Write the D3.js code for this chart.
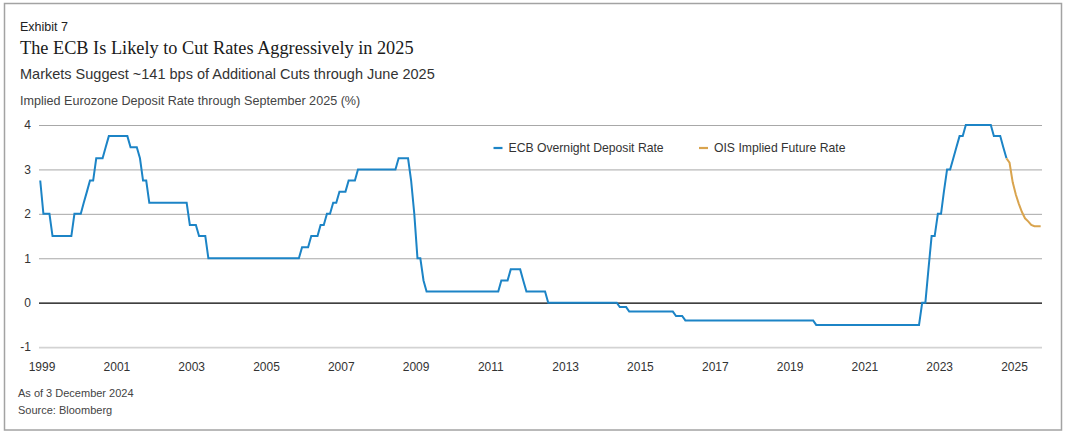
<!DOCTYPE html>
<html><head><meta charset="utf-8">
<script src="https://cdn.jsdelivr.net/npm/d3@7"></script>
<style>body{margin:0;background:#fff}svg{display:block}</style>
</head><body>
<svg id="chart" width="1067" height="433"></svg>
<script>
// ECB overnight deposit rate (first observation of each month), line vertices
const depositDates = ["1999-01","1999-02","1999-04","1999-05","1999-11","1999-12","2000-02","2000-03","2000-04","2000-05","2000-06","2000-07","2000-09","2000-10","2000-11","2001-05","2001-06","2001-08","2001-09","2001-10","2001-11","2001-12","2002-12","2003-01","2003-03","2003-04","2003-06","2003-07","2005-12","2006-01","2006-03","2006-04","2006-06","2006-07","2006-08","2006-09","2006-10","2006-11","2006-12","2007-01","2007-03","2007-04","2007-06","2007-07","2008-07","2008-08","2008-11","2008-12","2009-01","2009-02","2009-03","2009-04","2009-05","2011-04","2011-05","2011-07","2011-08","2011-11","2011-12","2012-01","2012-07","2012-08","2014-06","2014-07","2014-09","2014-10","2015-12","2016-01","2016-03","2016-04","2019-09","2019-10","2022-07","2022-08","2022-09","2022-10","2022-11","2022-12","2023-01","2023-02","2023-03","2023-04","2023-05","2023-06","2023-07","2023-08","2023-09","2023-10","2024-06","2024-07","2024-09","2024-10","2024-11"];
const depositValues = [2.75,2.00,2.00,1.50,1.50,2.00,2.00,2.25,2.50,2.75,2.75,3.25,3.25,3.50,3.75,3.75,3.50,3.50,3.25,2.75,2.75,2.25,2.25,1.75,1.75,1.50,1.50,1.00,1.00,1.25,1.25,1.50,1.50,1.75,1.75,2.00,2.00,2.25,2.25,2.50,2.50,2.75,2.75,3.00,3.00,3.25,3.25,2.75,2.00,1.00,1.00,0.50,0.25,0.25,0.50,0.50,0.75,0.75,0.50,0.25,0.25,0.00,0.00,-0.10,-0.10,-0.20,-0.20,-0.30,-0.30,-0.40,-0.40,-0.50,-0.50,0.00,0.00,0.75,1.50,1.50,2.00,2.00,2.50,3.00,3.00,3.25,3.50,3.75,3.75,4.00,4.00,3.75,3.75,3.50,3.25];
// OIS implied future rate
const oisDates = ["2024-11","2024-12","2025-01","2025-02","2025-03","2025-04","2025-05","2025-06","2025-07","2025-08","2025-09","2025-10"];
const oisValues = [3.25,3.15,2.71,2.43,2.23,2.04,1.90,1.83,1.75,1.72,1.72,1.72];
const yTicks = [-1,0,1,2,3,4];
const xTickYears = [1999,2001,2003,2005,2007,2009,2011,2013,2015,2017,2019,2021,2023,2025];
const seriesNames = ["ECB Overnight Deposit Rate","OIS Implied Future Rate"];
const seriesColors = ["#1c84c6","#d9a44e"];

const parse = d3.timeParse("%Y-%m");
const deposit = depositDates.map((d,i)=>({date:parse(d),value:depositValues[i]}));
const ois = oisDates.map((d,i)=>({date:parse(d),value:oisValues[i]}));

const svg = d3.select("#chart");
const L = 39, R = 1042, T = 125, B = 347.1;
const x = d3.scaleTime().domain([new Date(1998,11,20), new Date(2025,9,14)]).range([L,R]);
const y = d3.scaleLinear().domain([-1,4]).range([B,T]);
const sans = "'Liberation Sans', Arial, sans-serif";

// border
svg.append("rect").attr("x",4.5).attr("y",3.5).attr("width",1057).attr("height",426.5)
  .attr("fill","none").attr("stroke","#a3a3a3").attr("stroke-width",1.5);

// headings
svg.append("text").attr("x",20).attr("y",31).attr("font-family",sans).attr("font-size",12.5).attr("fill","#222").text("Exhibit 7");
svg.append("text").attr("x",20).attr("y",54).attr("font-family","'Liberation Serif', 'Times New Roman', serif").attr("font-size",18.3).attr("fill","#1a1a1a").text("The ECB Is Likely to Cut Rates Aggressively in 2025");
svg.append("text").attr("x",20).attr("y",79).attr("font-family",sans).attr("font-size",14.5).attr("fill","#333").text("Markets Suggest ~141 bps of Additional Cuts through June 2025");
svg.append("text").attr("x",20).attr("y",105).attr("font-family",sans).attr("font-size",12.6).attr("fill","#444").text("Implied Eurozone Deposit Rate through September 2025 (%)");

// y axis with gridlines
const yAxis = d3.axisLeft(y).tickValues(yTicks).tickSize(-(R-L)).tickPadding(8).tickFormat(d=>String(d));
const gy = svg.append("g").attr("transform",`translate(${L},0)`).call(yAxis);
gy.select(".domain").remove();
gy.selectAll(".tick line")
  .attr("stroke",d=>d===0?"#000":(d===-1?"#d3d3d3":"#a8a8a8"))
  .attr("stroke-width",d=>d===0?1.2:(d===-1?1.6:1));
gy.selectAll(".tick text").attr("font-family",sans).attr("font-size",12).attr("fill","#333");

// x axis labels
const xAxis = d3.axisBottom(x).tickValues(xTickYears.map(yr=>new Date(yr,0,1))).tickSize(0).tickPadding(15).tickFormat(d3.timeFormat("%Y"));
const gx = svg.append("g").attr("transform",`translate(0,${B})`).call(xAxis);
gx.select(".domain").remove();
gx.selectAll(".tick text").attr("font-family",sans).attr("font-size",12).attr("fill","#333").attr("dx",1.3);

// lines
const line = d3.line().x(d=>x(d.date)).y(d=>y(d.value));
svg.append("path").datum(deposit).attr("d",line).attr("fill","none").attr("stroke",seriesColors[0]).attr("stroke-width",2);
svg.append("path").datum(ois).attr("d",line).attr("fill","none").attr("stroke",seriesColors[1]).attr("stroke-width",2);

// legend
const legendX = [493.5, 699];
seriesNames.forEach((n,i)=>{
  svg.append("line").attr("x1",legendX[i]).attr("x2",legendX[i]+9).attr("y1",148).attr("y2",148)
    .attr("stroke",seriesColors[i]).attr("stroke-width",2.2);
  svg.append("text").attr("x",legendX[i]+15).attr("y",148).attr("dy","0.35em").attr("font-family",sans)
    .attr("font-size",12.2).attr("fill","#333").text(n);
});

// footer
svg.append("text").attr("x",18).attr("y",397).attr("font-family",sans).attr("font-size",11).attr("fill","#444").text("As of 3 December 2024");
svg.append("text").attr("x",18).attr("y",414).attr("font-family",sans).attr("font-size",11).attr("fill","#444").text("Source: Bloomberg");
</script>
</body></html>
